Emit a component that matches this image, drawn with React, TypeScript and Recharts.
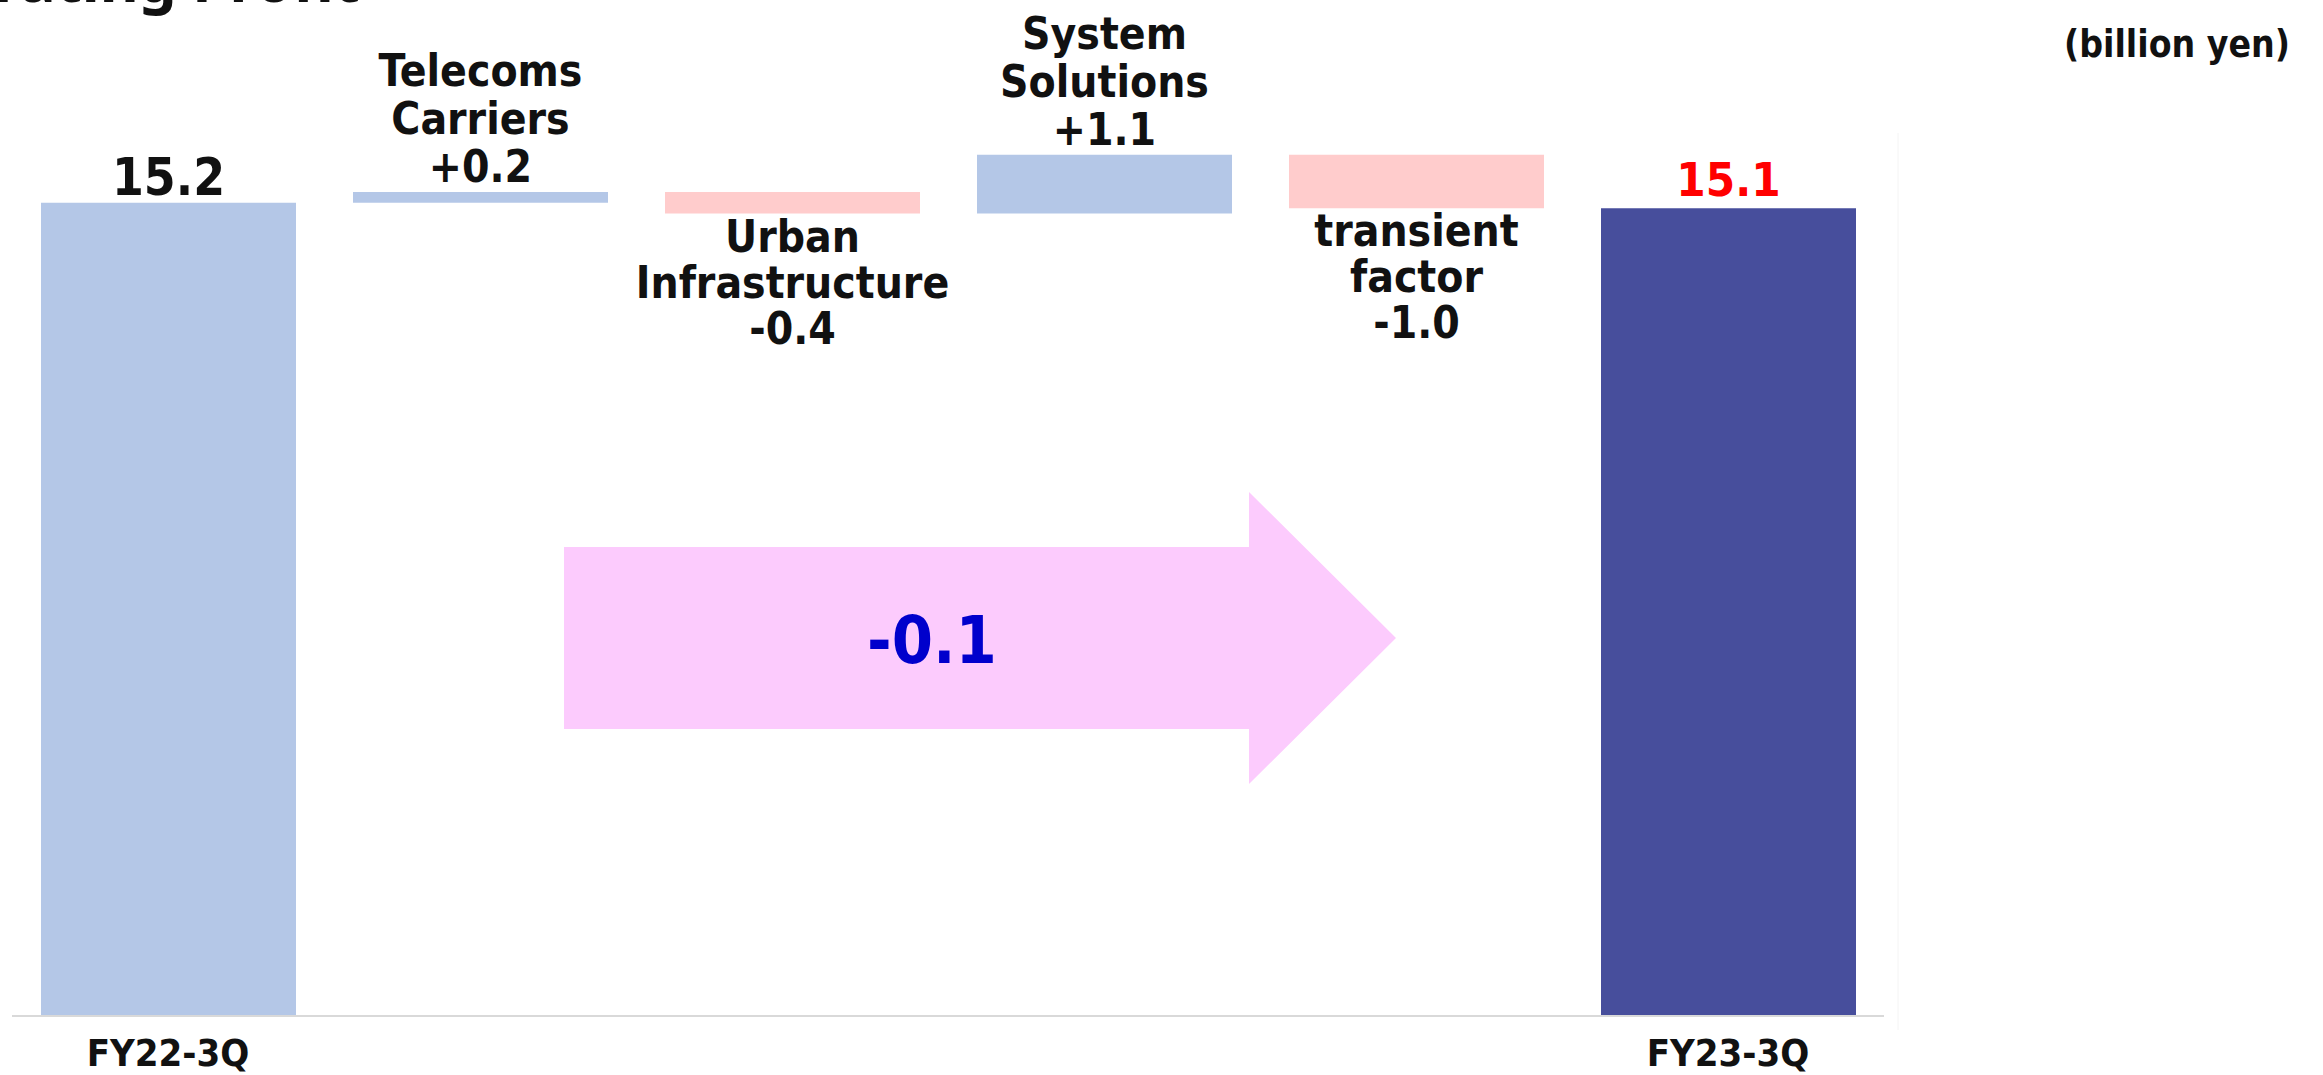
import React from 'react'
import { Bar, BarChart, Cell, LabelList, XAxis, YAxis } from 'recharts'

const categories = [
  'FY22-3Q',
  'Telecoms Carriers',
  'Urban Infrastructure',
  'System Solutions',
  'transient factor',
  'FY23-3Q',
]
const changes = [15.2, 0.2, -0.4, 1.1, -1.0, 15.1]
const isTotal = [true, false, false, false, false, true]
const tickLabels = ['FY22-3Q', '', '', '', '', 'FY23-3Q']
const labelLines = [
  ['15.2'],
  ['Telecoms', 'Carriers', '+0.2'],
  ['Urban', 'Infrastructure', '-0.4'],
  ['System', 'Solutions', '+1.1'],
  ['transient', 'factor', '-1.0'],
  ['15.1'],
]
const barColors = ['#B4C7E7', '#B4C7E7', '#FFCCCC', '#B4C7E7', '#FFCCCC', '#474E9C']
const totalChange = '-0.1'
const unitLabel = '(billion yen)'
const title = 'Operating Profit'

const FONT = "'DejaVu Sans Condensed', 'DejaVu Sans', sans-serif"

// waterfall: invisible base + visible step
let running = 0
const data = categories.map((name, i) => {
  if (isTotal[i]) {
    running = changes[i]
    return { name, base: 0, step: changes[i] }
  }
  const start = running
  const end = running + changes[i]
  running = end
  return { name, base: Math.min(start, end), step: Math.abs(changes[i]) }
})

function renderLabel(props: any) {
  const { x, y, width, height, index } = props
  const lines = labelLines[index]
  const cx = x + width / 2
  if (isTotal[index]) {
    const last = index === categories.length - 1
    return (
      <text
        x={cx}
        y={y - (last ? 12 : 8)}
        textAnchor="middle"
        fontFamily={FONT}
        fontWeight="bold"
        fontSize={last ? 47 : 51}
        fill={last ? '#FF0000' : '#111111'}
      >
        {lines[0]}
      </text>
    )
  }
  if (changes[index] >= 0) {
    const lastBase = y - 10
    return (
      <g>
        {lines.map((line, k) => (
          <text
            key={k}
            x={cx}
            y={lastBase - (lines.length - 1 - k) * 48}
            textAnchor="middle"
            fontFamily={FONT}
            fontWeight="bold"
            fontSize={44}
            fill="#111111"
          >
            {line}
          </text>
        ))}
      </g>
    )
  }
  const firstBase = y + height + 38
  return (
    <g>
      {lines.map((line, k) => (
        <text
          key={k}
          x={cx}
          y={firstBase + k * 46}
          textAnchor="middle"
          fontFamily={FONT}
          fontWeight="bold"
          fontSize={44}
          fill="#111111"
        >
          {line}
        </text>
      ))}
    </g>
  )
}

function CategoryTick(props: any) {
  const { x, y, payload } = props
  return (
    <text
      x={x}
      y={y + 48}
      textAnchor="middle"
      fontFamily={FONT}
      fontWeight="bold"
      fontSize={38}
      fill="#111111"
    >
      {tickLabels[payload.index]}
    </text>
  )
}

export default function App() {
  return (
    <div
      style={{
        position: 'absolute',
        left: 0,
        top: 0,
        width: 2323,
        height: 1075,
        overflow: 'hidden',
        background: '#FFFFFF',
      }}
    >
      <BarChart
        width={2323}
        height={1075}
        data={data}
        margin={{ top: 53, right: 439, left: 12, bottom: 0 }}
        barSize={255}
      >
        <XAxis
          dataKey="name"
          axisLine={{ stroke: '#D9D9D9', strokeWidth: 2 }}
          tickLine={false}
          tickSize={0}
          interval={0}
          height={59}
          tick={<CategoryTick />}
        />
        <YAxis hide domain={[0, 18]} />
        <Bar dataKey="base" stackId="w" fill="transparent" isAnimationActive={false} />
        <Bar dataKey="step" stackId="w" isAnimationActive={false}>
          {data.map((_, i) => (
            <Cell key={i} fill={barColors[i]} />
          ))}
          <LabelList dataKey="step" content={renderLabel} />
        </Bar>
      </BarChart>
      <svg
        width={2323}
        height={1075}
        style={{ position: 'absolute', left: 0, top: 0, pointerEvents: 'none' }}
      >
        <text x={-127} y={2} fontFamily="'Noto Sans', sans-serif" fontWeight="bold" fontSize={60} fill="#111111">
          {title}
        </text>
        <text x={2290} y={57} textAnchor="end" fontFamily={FONT} fontWeight="bold" fontSize={37} fill="#111111">
          {unitLabel}
        </text>
        <line x1={1898} y1={133} x2={1898} y2={1030} stroke="#F4F4F4" strokeWidth={1} />
        <polygon
          points="564,547 1249,547 1249,492 1396,638 1249,784 1249,729 564,729"
          fill="#FCCBFD"
        />
        <text x={932} y={663} textAnchor="middle" fontFamily={FONT} fontWeight="bold" fontSize={66} fill="#0000CC">
          {totalChange}
        </text>
      </svg>
    </div>
  )
}
